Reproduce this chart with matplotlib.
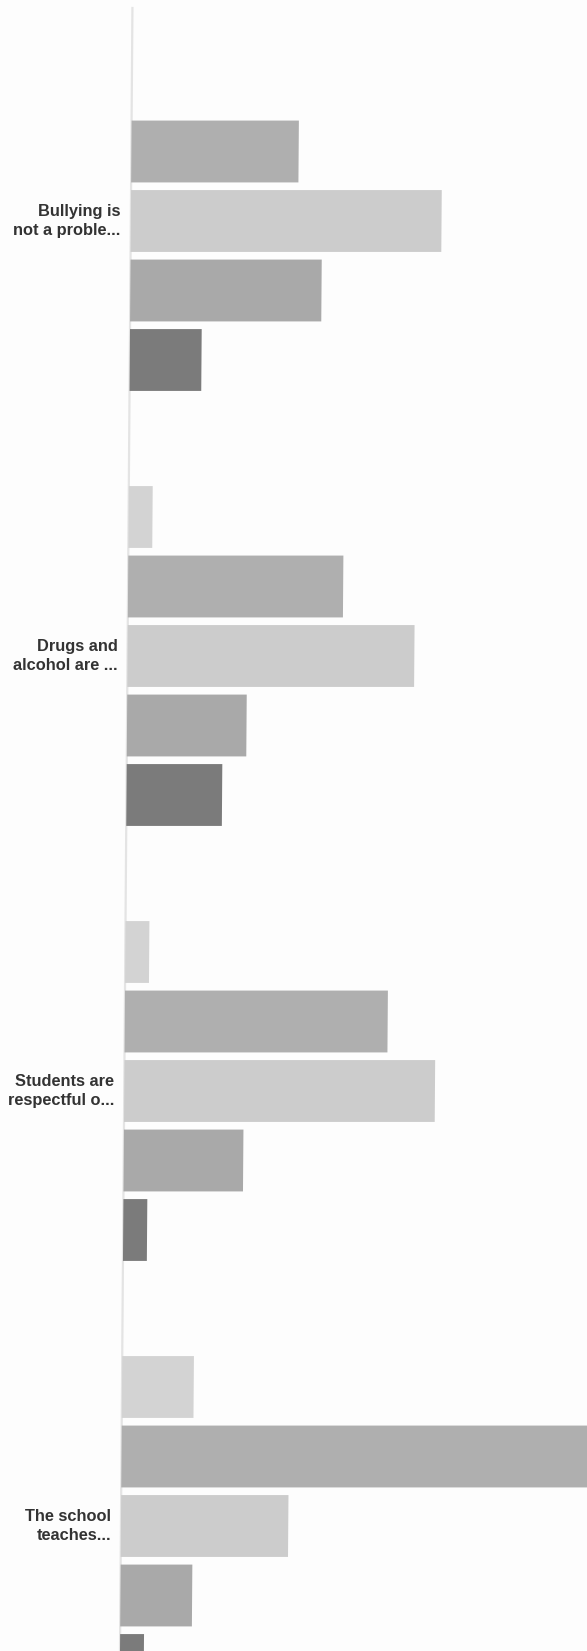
import numpy as np
import matplotlib
matplotlib.use("Agg")
import matplotlib.pyplot as plt
from matplotlib.transforms import Affine2D, ScaledTranslation

# ---- data ----
statements = ["Bullying is\nnot a proble...",
              "Drugs and\nalcohol are ...",
              "Students are\nrespectful o...",
              "The school\nteaches..."]
series_names = ["Strongly disagree", "Disagree", "Neutral", "Agree", "Strongly agree"]
s1 = [0, 1, 1, 3]
s2 = [7, 9, 11, 20]
s3 = [13, 12, 13, 7]
s4 = [8, 5, 5, 3]
s5 = [3, 4, 1, 1]
series_values = [s1, s2, s3, s4, s5]
series_colors = ["#d3d3d3", "#afafaf", "#cccccc", "#a9a9a9", "#7b7b7b"]

# ---- layout ----
W, H, DPI = 587, 1651, 100
fig = plt.figure(figsize=(W / DPI, H / DPI), dpi=DPI, facecolor="#fdfdfd")
left_px = 132.5
unit_px = 23.9
xmax = 20
ax = fig.add_axes([left_px / W, 0, xmax * unit_px / W, 1])
ax.set_facecolor("#fdfdfd")
ax.axis("off")

group_step = 435 / 69.5
bar_pitch = 69.5
top_offset = 82
ax.set_xlim(0, xmax)
ax.set_ylim((H - top_offset) / bar_pitch, -top_offset / bar_pitch)

# slight scan skew (shear in display pixels)
k = 12.5 / H
shear = Affine2D().skew(np.arctan(k), 0).translate(-k * H, 0)

ln = ax.axvline(0, ymin=0, ymax=1 - 8 / H, color="#e4e4e4", lw=1.6,
                clip_on=False, zorder=0.5)
ln.set_transform(ln.get_transform() + shear)

group_pos = np.arange(len(statements)) * group_step
for i, (vals, col) in enumerate(zip(series_values, series_colors)):
    bars = ax.barh(group_pos + i, vals, height=0.89, color=col,
                   label=series_names[i], clip_on=False, zorder=2)
    for p in bars.patches:
        p.set_transform(p.get_data_transform() + shear)

offset = ScaledTranslation(-10 / DPI, 0, fig.dpi_scale_trans)
for g, lab in zip(group_pos, statements):
    t = ax.text(0, g + 2, lab, ha="right", va="center", multialignment="right",
                fontsize=11.8, fontweight="bold", family="Liberation Sans",
                color="#333333", linespacing=1.4)
    t.set_transform(ax.transData + offset + shear)

fig.savefig("out.png", dpi=DPI, facecolor=fig.get_facecolor())
